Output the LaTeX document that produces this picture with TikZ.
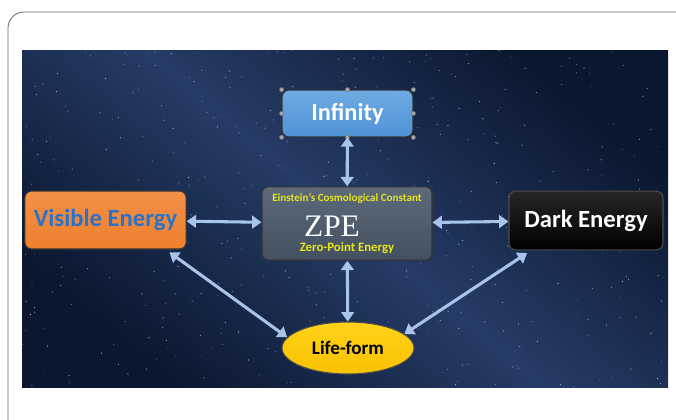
\documentclass[tikz,border=0pt]{standalone}
\usepackage{fontspec}
\setmainfont{Carlito}
\newfontfamily\zpefont{Liberation Serif}
\usetikzlibrary{arrows.meta,shapes.geometric}
\definecolor{skydark}{HTML}{0B1730}
\definecolor{skymid}{HTML}{263B66}
\definecolor{arrowblue}{HTML}{A9C4EA}
\definecolor{infblue}{HTML}{4F93D6}
\definecolor{infbluetop}{HTML}{6FAAE3}
\definecolor{orangebox}{HTML}{EE7F2D}
\definecolor{orangetop}{HTML}{F39048}
\definecolor{visblue}{HTML}{2A72C6}
\definecolor{slatebox}{HTML}{43505F}
\definecolor{slatetop}{HTML}{5C6A7A}
\definecolor{lifeyellow}{HTML}{F8C100}
\definecolor{lifetop}{HTML}{FFD21A}
\definecolor{zpeyellow}{HTML}{E6E61E}
\tikzset{
  box/.style={draw=black!80,rounded corners=5pt,line width=0.8pt,font=\bfseries},
  link/.style={<->,draw=arrowblue,line width=2.3pt,
    >={Triangle[length=7pt,width=9.5pt]}},
  handle/.style={fill=gray!70,draw=black!60,line width=0.3pt},
}
\begin{document}
\begin{tikzpicture}[x=0.75pt,y=-0.75pt]
\useasboundingbox (0,0) rectangle (676,419);
% frame and sky
\draw[black!60,line width=0.6pt,rounded corners=12pt] (8,12) rectangle (700,440);
\shade[top color=skydark,bottom color=skydark,middle color=skymid,shading angle=-40]
  (22,50) rectangle (668,387);
\pgfmathsetseed{11}
\foreach \i in {1,...,420}{
  \pgfmathsetmacro{\sx}{22+646*rnd}
  \pgfmathsetmacro{\sy}{50+337*rnd}
  \pgfmathsetmacro{\so}{0.25+0.6*rnd}
  \fill[white,opacity=\so] (\sx,\sy) circle (0.55);
}
%
\node[box,top color=infbluetop,bottom color=infblue,text=white,minimum width=98pt,minimum height=35pt,
  font=\bfseries\fontsize{18.3}{20}\selectfont](inf) at (347.5,113.5) {Infinity};
\foreach \a in {north west,north,north east,east,south east,south,south west,west}
  \draw[handle] (inf.\a) circle (2.2);
%
\node[box,top color=slatetop,bottom color=slatebox,minimum width=127.5pt,minimum height=55pt](zpe) at (347,223.5) {};
\node[text=zpeyellow,font=\bfseries\fontsize{8.3}{9}\selectfont](ecc) at (347,198) {Einstein's Cosmological Constant};
\node[text=white,font=\zpefont\fontsize{23.5}{25}\selectfont](zpetxt) at (332,226) {ZPE};
\node[text=zpeyellow,font=\bfseries\fontsize{9.6}{10}\selectfont](zpen) at (347,248) {Zero-Point Energy};
%
\node[box,top color=orangetop,bottom color=orangebox,text=visblue,minimum width=121pt,minimum height=43.5pt,
  font=\bfseries\fontsize{18.5}{21}\selectfont](vis) at (105.5,220) {Visible Energy};
%
\node[box,top color=black!85,bottom color=black,draw=black!70!white,text=white,minimum width=115.5pt,minimum height=44pt,
  font=\bfseries\fontsize{18.5}{21}\selectfont](dark) at (586,220.5) {Dark Energy};
%
\node[ellipse,draw=black!70,line width=0.8pt,top color=lifetop,bottom color=lifeyellow,minimum width=99pt,minimum height=39pt,
  font=\bfseries\fontsize{14.3}{16}\selectfont](life) at (348,348) {Life-form};
%
\draw[link] (inf) -- (zpe);
\draw[link] (vis) -- (zpe);
\draw[link] (zpe) -- (dark);
\draw[link] (zpe) -- (life);
\draw[link] ([xshift=-13pt,yshift=-2pt]vis.south east) -- (life.170);
\draw[link] ([xshift=14pt,yshift=-2pt]dark.south west) -- (life.14);
\end{tikzpicture}
\end{document}
